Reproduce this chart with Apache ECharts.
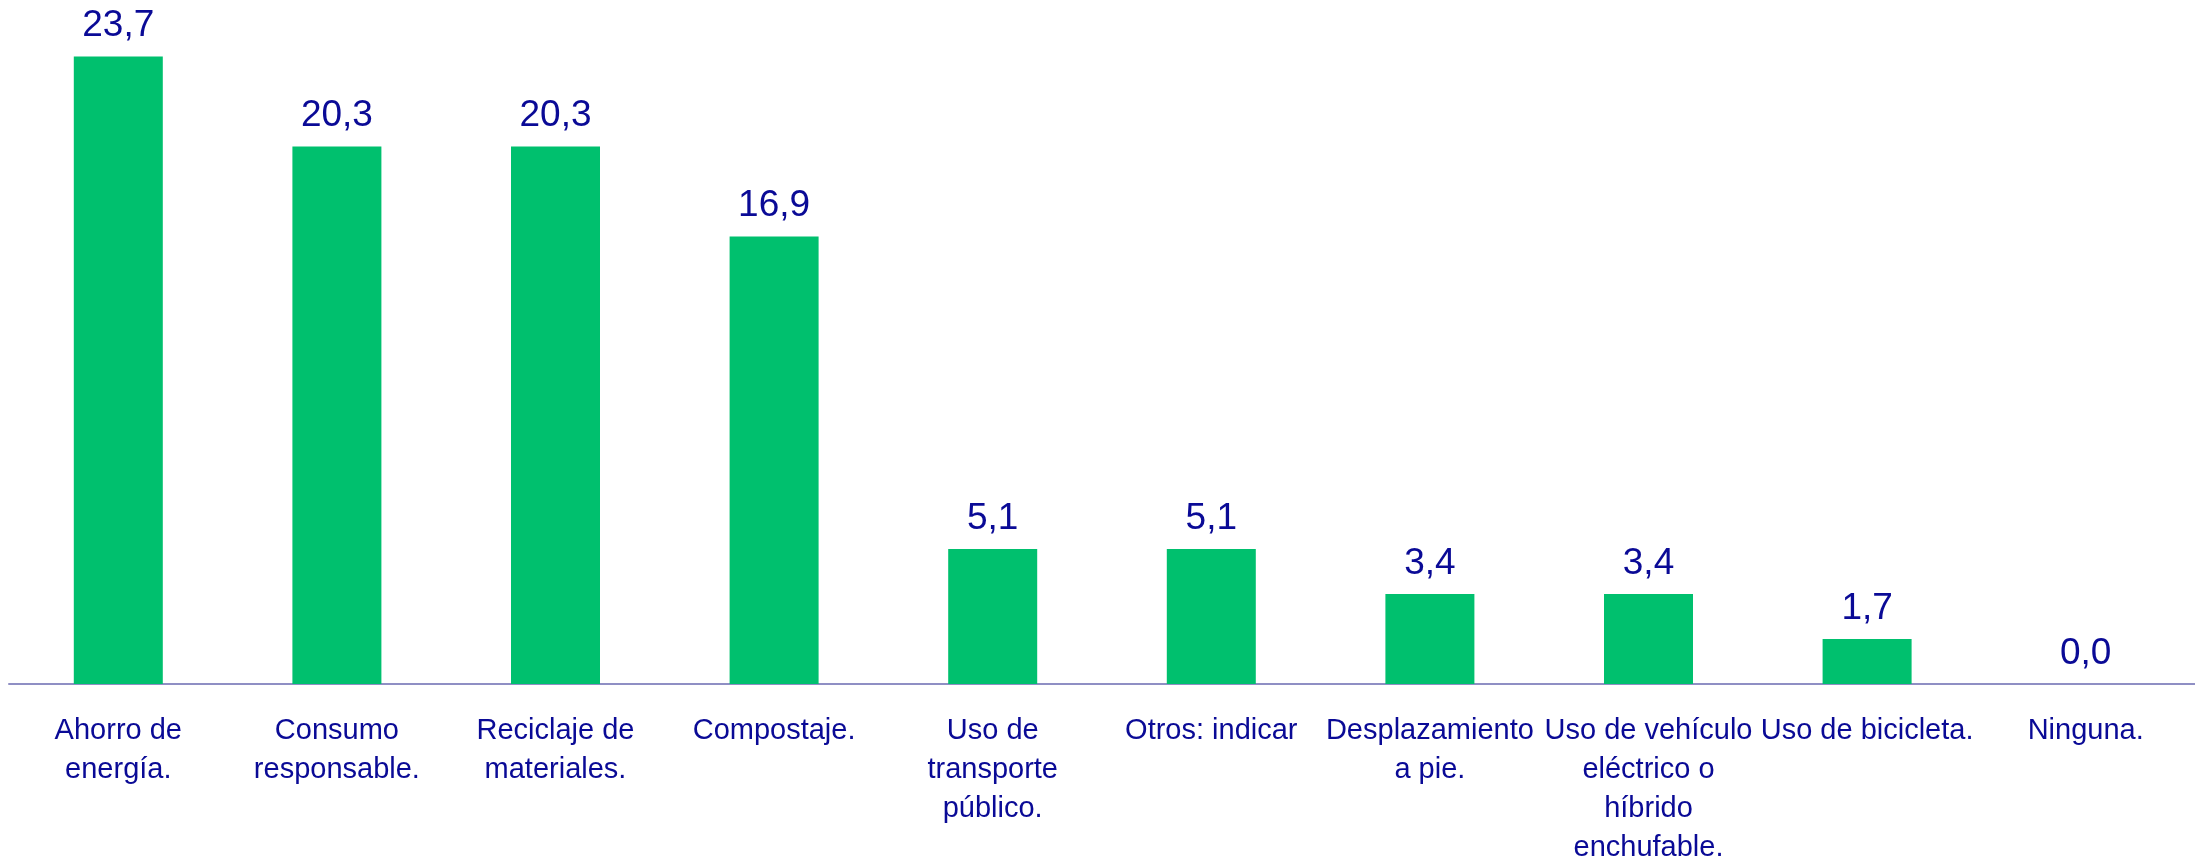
<!DOCTYPE html>
<html>
<head>
<meta charset="utf-8">
<script src="https://cdn.jsdelivr.net/npm/echarts@6/dist/echarts.min.js"></script>
<style>
html,body{margin:0;padding:0;background:#fff;}
#c{width:2195px;height:867px;}
</style>
</head>
<body>
<div id="c"></div>
<script>
const categories = [
  'Ahorro de\nenergía.',
  'Consumo\nresponsable.',
  'Reciclaje de\nmateriales.',
  'Compostaje.',
  'Uso de\ntransporte\npúblico.',
  'Otros: indicar',
  'Desplazamiento\na pie.',
  'Uso de vehículo\neléctrico o\nhíbrido\nenchufable.',
  'Uso de bicicleta.',
  'Ninguna.'
];
const values = [23.7, 20.3, 20.3, 16.9, 5.1, 5.1, 3.4, 3.4, 1.7, 0.0];

const textColor = '#0a0a96';
const chart = echarts.init(document.getElementById('c'));
chart.setOption({
  animation: false,
  grid: { left: 9, right: -43, top: 22, bottom: 178, containLabel: false },
  xAxis: {
    type: 'category',
    data: categories,
    axisLine: { show: true, lineStyle: { color: '#8f8fc4', width: 2 } },
    axisTick: { show: false },
    axisLabel: {
      interval: 0,
      color: textColor,
      fontFamily: 'Liberation Sans',
      fontSize: 29,
      lineHeight: 39,
      margin: 27,
      align: 'center'
    }
  },
  yAxis: {
    type: 'value',
    min: 0,
    max: 25,
    show: false,
    splitLine: { show: false }
  },
  series: [{
    type: 'bar',
    data: values,
    barWidth: 89,
    itemStyle: { color: '#00C06E' },
    label: {
      show: true,
      position: 'top',
      distance: 12,
      color: textColor,
      fontFamily: 'Liberation Sans',
      fontSize: 37,
      formatter: p => p.value.toFixed(1).replace('.', ',')
    }
  }]
});
</script>
</body>
</html>
